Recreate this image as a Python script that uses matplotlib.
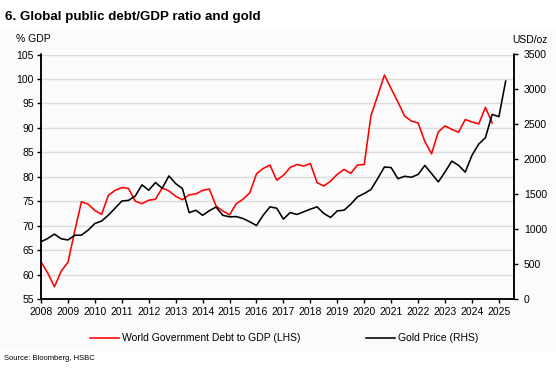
import matplotlib
matplotlib.use('Agg')
import matplotlib.pyplot as plt
from matplotlib.lines import Line2D
from matplotlib.patches import Rectangle

plt.rcParams['font.family'] = ['Liberation Sans', 'DejaVu Sans']

# quarterly readings, first point = start of 2008
debt_gdp = [62.6, 60.3, 57.5, 60.7, 62.5, 68.8, 74.9, 74.4, 73.1, 72.3,
            76.2, 77.2, 77.8, 77.6, 75.0, 74.5, 75.2, 75.4, 77.7, 77.1,
            76.0, 75.3, 76.3, 76.5, 77.2, 77.5, 74.0, 73.0, 72.2, 74.5,
            75.4, 76.7, 80.6, 81.7, 82.4, 79.3, 80.3, 81.9, 82.5, 82.2,
            82.7, 78.8, 78.1, 79.1, 80.5, 81.5, 80.7, 82.4, 82.5, 92.5,
            96.6, 100.8, 98.0, 95.3, 92.4, 91.4, 91.0, 87.2, 84.7, 89.2,
            90.4, 89.7, 89.1, 91.7, 91.2, 90.8, 94.2, 91.0]
gold = [819, 867, 929, 862, 845, 912, 914, 986, 1081, 1116,
        1200, 1300, 1402, 1412, 1474, 1634, 1557, 1667, 1585, 1762,
        1652, 1581, 1236, 1271, 1198, 1264, 1316, 1198, 1176, 1180,
        1152, 1105, 1052, 1200, 1319, 1300, 1143, 1238, 1210, 1248,
        1286, 1319, 1224, 1167, 1262, 1271, 1357, 1462, 1510, 1567,
        1724, 1890, 1881, 1722, 1757, 1743, 1783, 1912, 1795, 1676,
        1819, 1974, 1914, 1816, 2057, 2217, 2310, 2643, 2610, 3119]
years = list(range(2008, 2026))

x_debt = [2008 + i / 4 for i in range(len(debt_gdp))]
x_gold = [2008 + i / 4 for i in range(len(gold))]

fig = plt.figure(figsize=(5.56, 3.69), dpi=100)
fig.add_artist(Rectangle((0, 0.045), 1, 0.88, transform=fig.transFigure,
                         facecolor='#fbfbfb', edgecolor='none', zorder=-10))

ax = fig.add_axes([41/556, 1-299/369, 473/556, 244.5/369])
ax.patch.set_alpha(0)
ax2 = ax.twinx()

for y in range(60, 106, 5):
    ax.axhline(y, color='#dcdcdc', lw=1.0, zorder=0)

ax.plot(x_debt, debt_gdp, color='#ff0000', lw=1.15, zorder=3)
ax2.plot(x_gold, gold, color='black', lw=1.15, zorder=3)

ax.set_xlim(2008, 2025.56)
ax.set_ylim(55, 105)
ax2.set_ylim(0, 3500)
ax.set_yticks(range(55, 106, 5))
ax2.set_yticks(range(0, 3501, 500))
ax.set_xticks(years)
ax.set_xticklabels([str(y) for y in years])

for a in (ax, ax2):
    a.spines['top'].set_visible(False)
    for s in ('left', 'right', 'bottom'):
        a.spines[s].set_linewidth(1.1)
ax.tick_params(axis='both', labelsize=7.5, length=3, width=1, pad=2)
ax2.tick_params(axis='y', labelsize=7.5, length=3, width=1, pad=4)
ax.tick_params(axis='x', pad=3)

fig.text(5/556, 1-17/369, '6. Global public debt/GDP ratio and gold',
         fontsize=9.6, fontweight='bold', va='center', ha='left')
fig.text(16/556, 1-39/369, '% GDP', fontsize=7.5, va='center', ha='left')
fig.text(548/556, 1-40/369, 'USD/oz', fontsize=7.5, va='center', ha='right')

# legend
ly = 1 - 338/369
fig.add_artist(Line2D([90/556, 119/556], [ly, ly], color='#ff0000', lw=1.15,
                      transform=fig.transFigure))
fig.text(122/556, ly, 'World Government Debt to GDP (LHS)', fontsize=7.5,
         va='center', ha='left')
fig.add_artist(Line2D([366/556, 395/556], [ly, ly], color='black', lw=1.15,
                      transform=fig.transFigure))
fig.text(398/556, ly, 'Gold Price (RHS)', fontsize=7.5, va='center', ha='left')

fig.text(4/556, 1-359/369, 'Source: Bloomberg, HSBC', fontsize=5.5,
         va='center', ha='left', backgroundcolor='white')

fig.savefig('out.png', dpi=100, facecolor='white')
